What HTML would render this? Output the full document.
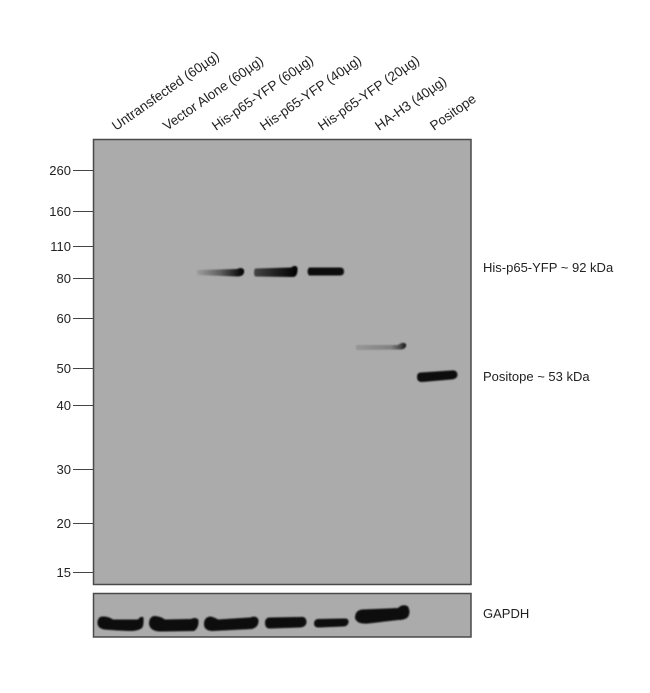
<!DOCTYPE html>
<html><head><meta charset="utf-8"><style>
html,body{margin:0;padding:0;background:#fff;}
svg{display:block;}
text{font-family:"Liberation Sans",Arial,sans-serif;font-size:13px;fill:#222;}
.lane{font-size:13.5px;}
</style></head><body>
<svg width="650" height="693" viewBox="0 0 650 693" xmlns="http://www.w3.org/2000/svg">
<defs>
<linearGradient id="g1" x1="0" x2="1" y1="0" y2="0">
<stop offset="0" stop-color="#000" stop-opacity="0.08"/>
<stop offset="0.5" stop-color="#000" stop-opacity="0.45"/>
<stop offset="0.85" stop-color="#000" stop-opacity="0.85"/>
<stop offset="1" stop-color="#000" stop-opacity="1"/>
</linearGradient>
<linearGradient id="g2" x1="0" x2="1" y1="0" y2="0">
<stop offset="0" stop-color="#000" stop-opacity="0.6"/>
<stop offset="0.6" stop-color="#000" stop-opacity="0.85"/>
<stop offset="1" stop-color="#000" stop-opacity="1"/>
</linearGradient>
<linearGradient id="g3" x1="0" x2="1" y1="0" y2="0">
<stop offset="0" stop-color="#000" stop-opacity="0.12"/>
<stop offset="0.7" stop-color="#000" stop-opacity="0.25"/>
<stop offset="0.9" stop-color="#000" stop-opacity="0.6"/>
<stop offset="1" stop-color="#000" stop-opacity="0.9"/>
</linearGradient>
<filter id="b" x="-20%" y="-100%" width="140%" height="300%"><feGaussianBlur stdDeviation="0.8"/></filter>
</defs>

<!-- lane labels -->
<g class="lane">
<text class="lane" transform="translate(116,131) rotate(-35)">Untransfected (60µg)</text>
<text class="lane" transform="translate(167,131) rotate(-35)">Vector Alone (60µg)</text>
<text class="lane" transform="translate(216,131) rotate(-35)">His-p65-YFP (60µg)</text>
<text class="lane" transform="translate(264,131) rotate(-35)">His-p65-YFP (40µg)</text>
<text class="lane" transform="translate(322,131) rotate(-35)">His-p65-YFP (20µg)</text>
<text class="lane" transform="translate(379,131) rotate(-35)">HA-H3 (40µg)</text>
<text class="lane" transform="translate(434,131) rotate(-35)">Positope</text>
</g>

<!-- main panel -->
<rect x="93.5" y="139.5" width="377.5" height="445" fill="#ababab" stroke="#4a4a4a" stroke-width="1.5"/>

<!-- ticks -->
<g stroke="#444" stroke-width="1">
<line x1="73" y1="170.5" x2="93" y2="170.5"/>
<line x1="73" y1="211.5" x2="93" y2="211.5"/>
<line x1="73" y1="246.5" x2="93" y2="246.5"/>
<line x1="73" y1="278.5" x2="93" y2="278.5"/>
<line x1="73" y1="318.5" x2="93" y2="318.5"/>
<line x1="73" y1="368.5" x2="93" y2="368.5"/>
<line x1="73" y1="405.5" x2="93" y2="405.5"/>
<line x1="73" y1="469.5" x2="93" y2="469.5"/>
<line x1="73" y1="523.5" x2="93" y2="523.5"/>
<line x1="73" y1="572.5" x2="93" y2="572.5"/>
</g>
<g text-anchor="end">
<text x="71" y="175">260</text>
<text x="71" y="216">160</text>
<text x="71" y="251">110</text>
<text x="71" y="283">80</text>
<text x="71" y="323">60</text>
<text x="71" y="373">50</text>
<text x="71" y="410">40</text>
<text x="71" y="474">30</text>
<text x="71" y="528">20</text>
<text x="71" y="577">15</text>
</g>

<!-- bands main -->
<g filter="url(#b)">
<path d="M197,270 L237,269 Q242,266.5 244,270 Q245,276 238,276.5 L197,275 Z" fill="url(#g1)"/>
<path d="M255,268.5 L291,267.5 Q296,264 297.5,268 Q298,277.5 292,277 L255,276.5 Q253,272.5 255,268.5 Z" fill="url(#g2)"/>
<path d="M309,267.5 L340,267.5 Q344,267.5 344,271.5 Q344,275.5 340,275.5 L309,275.5 Q306,271.5 309,267.5 Z" fill="#0a0a0a"/>
<path d="M356,345 L398,345 Q403,341 406,344 Q407,348 402,349.5 L356,350 Z" fill="url(#g3)"/>
<path d="M421,372.5 L451,370.5 Q457,369.5 457.5,374.5 Q457.5,379 451,379.5 L422,382 Q417,382 417,377 Q417,372.5 421,372.5 Z" fill="#0a0a0a"/>
</g>

<!-- right labels -->
<text x="483" y="272">His-p65-YFP ~ 92 kDa</text>
<text x="483" y="381">Positope ~ 53 kDa</text>

<!-- GAPDH panel -->
<rect x="93.5" y="593.5" width="377.5" height="43.5" fill="#ababab" stroke="#4a4a4a" stroke-width="1.5"/>
<g filter="url(#b)" fill="#080808">
<path d="M102,616.5 Q108,616 113,619.5 L138,619.5 Q141,615.5 143.5,617.5 Q144,625 142,628 Q138,631 130,631 L118,630.5 L104,629.5 Q97,628 97.5,622 Q98,617 102,616.5 Z"/>
<path d="M154,616 Q160,616 165,619.5 L191,619 Q196,616.5 198.5,620 Q199,628 194,631 L160,631.5 Q150,631 149,624 Q149,617 154,616 Z"/>
<path d="M210,616.5 Q214,617 218,619.5 L250,617.5 Q257,615 258.5,620 Q259,627 252,629 L212,631 Q204,630.5 204,624 Q204,617.5 210,616.5 Z"/>
<path d="M269,617.5 L300,617 Q306,616 306.5,621.5 Q306.5,627 300,627.5 L269,628.5 Q265,628 265,623 Q265,618 269,617.5 Z"/>
<path d="M318,619 L345,618.5 Q349,618.5 348.5,622.5 Q347.5,626.5 343,626.5 L318,627.5 Q314,627 314,623.5 Q314,619.5 318,619 Z"/>
<path d="M362,609.5 L398,608 Q403,603.5 408,606.5 Q411,612 408,617 Q405,620 398,620 L368,623.5 Q357,624.5 355,618 Q355,610.5 362,609.5 Z"/>
</g>
<text x="483" y="618">GAPDH</text>
</svg>
</body></html>
